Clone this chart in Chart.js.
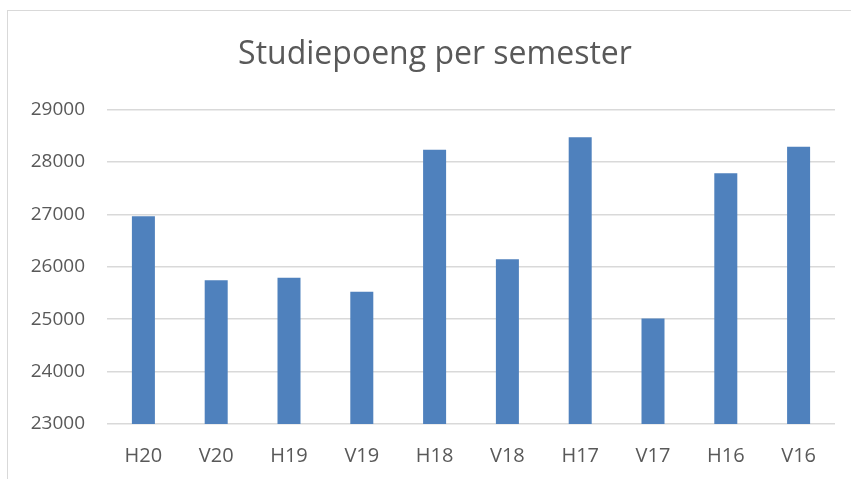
<!DOCTYPE html>
<html>
<head>
<meta charset="utf-8">
<script src="https://cdn.jsdelivr.net/npm/chart.js@4/dist/chart.umd.min.js"></script>
<style>
  html, body { margin: 0; padding: 0; background: #fff; overflow: hidden; }
  .ramme {
    position: absolute;
    left: 7px;
    top: 10px;
    width: 843px;
    height: 468px;
    overflow: hidden;
    border-left: 1px solid #d9d9d9;
    border-top: 1px solid #d9d9d9;
  }
  canvas { display: block; }
</style>
</head>
<body>
<div class="ramme">
  <canvas id="myChart" width="854" height="468"></canvas>
</div>
<script>
// semestre og studiepoeng lest av bildet
const semestre = ['H20', 'V20', 'H19', 'V19', 'H18', 'V18', 'H17', 'V17', 'H16', 'V16'];
const studiepoeng = [26960, 25740, 25790, 25520, 28230, 26140, 28470, 25010, 27780, 28290];
const yMin = 23000;
const yMax = 29000;
const yStep = 1000;

const grå = '#595959';
const linje = '#d9d9d9';

const ctx = document.getElementById('myChart').getContext('2d');

new Chart(ctx, {
  type: 'bar',
  data: {
    labels: semestre,
    datasets: [{
      label: 'Studiepoeng',
      data: studiepoeng,
      backgroundColor: '#4f81bd',
      borderWidth: 0,
      barPercentage: 0.316,
      categoryPercentage: 1
    }]
  },
  options: {
    responsive: false,
    animation: false,
    layout: {
      padding: 0
    },
    plugins: {
      legend: { display: false },
      tooltip: { enabled: false },
      title: {
        display: true,
        text: 'Studiepoeng per semester',
        color: grå,
        font: { family: 'Open Sans', size: 32, weight: 'normal' },
        padding: { top: 25, bottom: 35 }
      }
    },
    scales: {
      x: {
        grid: { display: false, drawTicks: false },
        border: { display: false },
        ticks: {
          color: grå,
          font: { family: 'Open Sans', size: 20 },
          padding: 20
        },
        afterFit: (scale) => { scale.height = 55; }
      },
      y: {
        min: yMin,
        max: yMax,
        grid: { color: linje, lineWidth: 1.5, drawTicks: false },
        border: { display: false },
        ticks: {
          stepSize: yStep,
          color: grå,
          font: { family: 'Open Sans', size: 19 },
          padding: 22,
          callback: (v) => String(v)
        },
        afterFit: (scale) => { scale.width = 99; }
      },
      // tom akse til høyre, bare for luft så tittelen havner riktig
      hoyre: {
        position: 'right',
        grid: { display: false, drawTicks: false },
        border: { display: false },
        ticks: { display: false },
        afterFit: (scale) => { scale.width = 27; }
      }
    }
  }
});
</script>
</body>
</html>
